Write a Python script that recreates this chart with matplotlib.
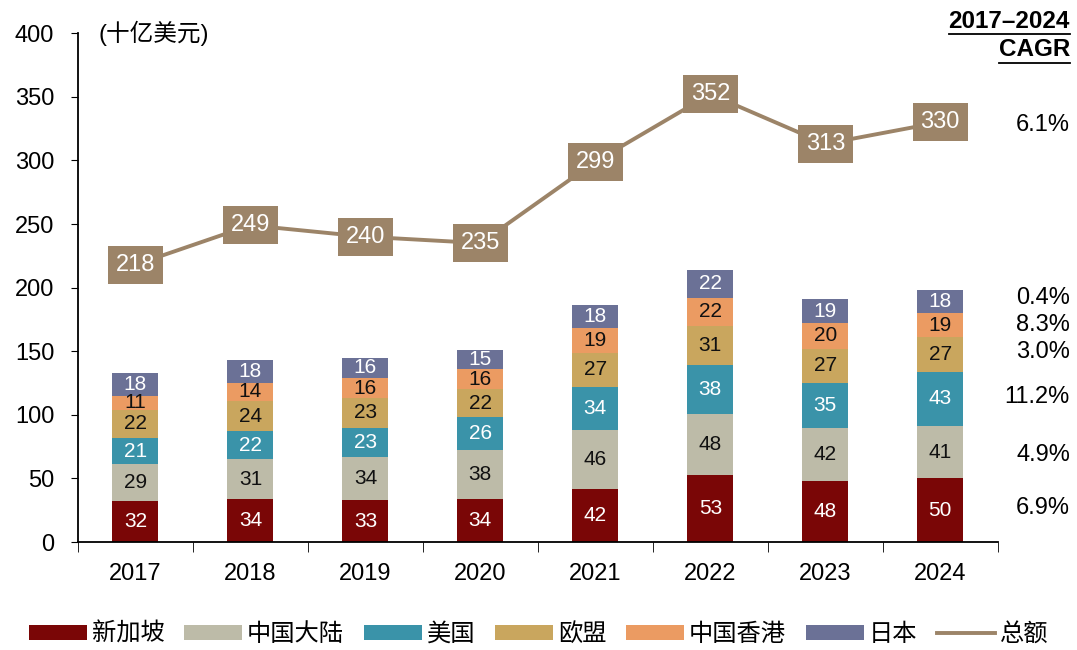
import numpy as np
import matplotlib
matplotlib.use("Agg")
import matplotlib.pyplot as plt
from matplotlib.patches import Patch
from matplotlib.lines import Line2D

plt.rcParams["font.family"] = ["Liberation Sans", "Noto Sans CJK SC", "DejaVu Sans"]
plt.rcParams["axes.unicode_minus"] = False

# 数据 (十亿美元)
years = ["2017", "2018", "2019", "2020", "2021", "2022", "2023", "2024"]
singapore = [32, 34, 33, 34, 42, 53, 48, 50]
mainland = [29, 31, 34, 38, 46, 48, 42, 41]
usa = [21, 22, 23, 26, 34, 38, 35, 43]
eu = [22, 24, 23, 22, 27, 31, 27, 27]
hongkong = [11, 14, 16, 16, 19, 22, 20, 19]
japan = [18, 18, 16, 15, 18, 22, 19, 18]
total = [218, 249, 240, 235, 299, 352, 313, 330]
names = ["新加坡", "中国大陆", "美国", "欧盟", "中国香港", "日本"]
cagr = ["6.9%", "4.9%", "11.2%", "3.0%", "8.3%", "0.4%"]
cagr_total = "6.1%"

series = [singapore, mainland, usa, eu, hongkong, japan]
colors = ["#7a0606", "#bdbba8", "#3a93a9", "#c9a65e", "#eb9b62", "#6b7196"]
txt_colors = ["white", "#111111", "white", "#111111", "#111111", "white"]
line_color = "#9c8468"

fig = plt.figure(figsize=(10.77, 6.5), dpi=100)
ax = fig.add_axes([0.0724, 0.166, 0.854, 0.783])

x = np.arange(len(years))
bottom = np.zeros(len(years))
for vals, c, tc, nm in zip(series, colors, txt_colors, names):
    vals = np.array(vals)
    ax.bar(x, vals, 0.4, bottom=bottom, color=c, label=nm, zorder=2)
    for xi, b, v in zip(x, bottom, vals):
        ax.text(xi, b + v / 2, str(v), ha="center", va="center",
                fontsize=15, color=tc, zorder=3)
    bottom += vals

# 总额折线
ax.plot(x, total, color=line_color, lw=2.8, zorder=4)
for xi, v in zip(x, total):
    ax.text(xi, v, str(v), ha="center", va="center", fontsize=17,
            color="white", zorder=5,
            bbox=dict(boxstyle="square,pad=0.34", fc=line_color, ec="none"))

ax.set_xlim(-0.5, 7.5)
ax.set_ylim(0, 400)
ax.set_yticks(range(0, 401, 50))
ax.tick_params(axis="y", labelsize=17, length=5, direction="out", pad=12)
ax.set_xticks(x)
ax.set_xticklabels(years)
ax.set_xticks(np.arange(-0.5, 8, 1), minor=True)
ax.tick_params(axis="x", which="major", length=0, labelsize=17, pad=15)
ax.tick_params(axis="x", which="minor", length=7, direction="out")
for s in ["top", "right"]:
    ax.spines[s].set_visible(False)
ax.spines["left"].set_linewidth(1.3)
ax.spines["bottom"].set_linewidth(1.3)

ax.text(0.022, 400, "(十亿美元)", fontsize=17, ha="left", va="center",
        transform=ax.get_yaxis_transform())

# CAGR 表头 (带下划线)
h1 = fig.text(0.9935, 0.967, "2017–2024", ha="right", va="center",
              fontsize=17.5, fontweight="bold")
h2 = fig.text(0.9935, 0.924, "CAGR", ha="right", va="center",
              fontsize=17.5, fontweight="bold")
fig.canvas.draw()
r = fig.canvas.get_renderer()
for t, uy in [(h1, 0.947), (h2, 0.903)]:
    bb = t.get_window_extent(r).transformed(fig.transFigure.inverted())
    fig.add_artist(Line2D([bb.x0, bb.x1], [uy, uy], color="black", lw=1.3))

cagr_y = [508, 455, 397, 352, 325, 298]
for yy, t in zip(cagr_y, cagr):
    fig.text(0.9935, 1 - yy / 650, t, ha="right", va="center", fontsize=17)
fig.text(0.9935, 1 - 125 / 650, cagr_total, ha="right", va="center", fontsize=17)

handles = [Patch(facecolor=c, label=n) for c, n in zip(colors, names)]
handles.append(Line2D([0], [0], color=line_color, lw=2.8, label="总额"))
fig.legend(handles=handles, loc="center", bbox_to_anchor=(0.5, 0.024), ncol=7,
           frameon=False, fontsize=17.5, handlelength=2.4, handleheight=0.6,
           handletextpad=0.2, columnspacing=0.8)

fig.savefig("out.png", dpi=100)
